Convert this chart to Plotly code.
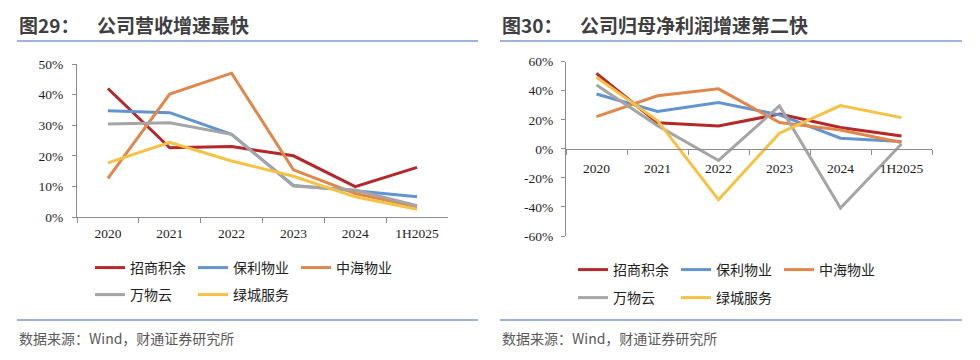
import plotly.graph_objects as go

# page body has an 8px margin, so the figure is 964x344 inside a 980x360 window
PAD = 8
W, H = 980 - 2 * PAD, 360 - 2 * PAD

categories = ["2020", "2021", "2022", "2023", "2024", "1H2025"]
series_names = ["招商积余", "保利物业", "中海物业", "万物云", "绿城服务"]
colors = ["#B5282A", "#6294D0", "#E0874C", "#A5A5A5", "#F5C244"]

# 营收增速 (%)
rev_zsjy = [42.0, 22.6, 23.0, 20.0, 9.9, 16.2]
rev_blwy = [34.7, 34.1, 27.0, 10.3, 8.6, 6.6]
rev_zhwy = [12.6, 40.2, 47.0, 15.4, 7.7, 3.3]
rev_wwy = [30.4, 30.8, 27.0, 10.1, 8.8, 3.7]
rev_lcfw = [17.7, 24.4, 18.3, 13.3, 6.6, 2.5]

# 归母净利润增速 (%)
np_zsjy = [52.0, 18.0, 15.8, 23.9, 14.7, 8.9]
np_blwy = [37.8, 25.7, 31.9, 23.4, 7.3, 5.0]
np_zhwy = [22.2, 36.5, 41.3, 18.1, 13.0, 4.4]
np_wwy = [44.0, 16.0, -8.0, 29.6, -40.8, 3.4]
np_lcfw = [49.3, 19.5, -35.0, 10.8, 29.8, 21.5]

left_yticks = [0, 10, 20, 30, 40, 50]
left_yticktext = ["0%", "10%", "20%", "30%", "40%", "50%"]
right_yticks = [60, 40, 20, 0, -20, -40, -60]
right_yticktext = ["60%", "40%", "20%", "0%", "-20%", "-40%", "-60%"]

left_title_no = "图29："
left_title = "公司营收增速最快"
right_title_no = "图30："
right_title = "公司归母净利润增速第二快"
source_text = "数据来源：Wind，财通证券研究所"

rev_series = [rev_zsjy, rev_blwy, rev_zhwy, rev_wwy, rev_lcfw]
np_series = [np_zsjy, np_blwy, np_zhwy, np_wwy, np_lcfw]


def px(x):
    return (x - PAD) / W


def py(y):
    return 1 - (y - PAD) / H


fig = go.Figure()

legend_rows_left = ["legend", "legend", "legend", "legend2", "legend2"]
legend_rows_right = ["legend3", "legend3", "legend3", "legend4", "legend4"]

for i, name in enumerate(series_names):
    fig.add_trace(go.Scatter(
        x=categories, y=rev_series[i], name=name, mode="lines",
        line=dict(color=colors[i], width=3),
        xaxis="x", yaxis="y", legend=legend_rows_left[i],
    ))
for i, name in enumerate(series_names):
    fig.add_trace(go.Scatter(
        x=categories, y=np_series[i], name=name, mode="lines",
        line=dict(color=colors[i], width=3),
        xaxis="x2", yaxis="y2", legend=legend_rows_right[i],
    ))

tickfont = dict(family="Liberation Serif", size=13.5, color="#1E1E1E")
axis_color = "#8C8C8C"
cat_range = [-0.5, len(categories) - 0.5]

fig.update_layout(
    width=W, height=H,
    margin=dict(l=0, r=0, t=0, b=0, autoexpand=False),
    paper_bgcolor="white", plot_bgcolor="white",
    showlegend=True,
    xaxis=dict(
        domain=[px(77), px(448)], anchor="y", type="category", automargin=False,
        range=cat_range, tickson="boundaries", ticks="outside", ticklen=5,
        tickcolor=axis_color, ticklabelstandoff=4,
        showline=True, linecolor=axis_color, linewidth=1.3,
        showgrid=False, zeroline=False, tickfont=tickfont,
    ),
    yaxis=dict(
        domain=[py(217), py(64)], anchor="x", range=[0, 50], automargin=False,
        tickvals=left_yticks, ticktext=left_yticktext,
        ticks="outside", ticklen=4, tickcolor=axis_color, ticklabelstandoff=6,
        showline=True, linecolor=axis_color, linewidth=1.3,
        showgrid=False, zeroline=False, tickfont=tickfont,
    ),
    xaxis2=dict(
        domain=[px(566), px(932)], anchor="free", position=py(149), type="category",
        automargin=False, range=cat_range,
        tickson="boundaries", ticks="outside", ticklen=5, tickcolor=axis_color,
        ticklabelstandoff=7,
        showline=True, linecolor=axis_color, linewidth=1.3,
        showgrid=False, zeroline=False, tickfont=tickfont,
    ),
    yaxis2=dict(
        domain=[py(236), py(61.7)], anchor="x2", range=[-60, 60], automargin=False,
        tickvals=right_yticks, ticktext=right_yticktext,
        ticks="outside", ticklen=4, tickcolor=axis_color, ticklabelstandoff=5,
        showline=True, linecolor=axis_color, linewidth=1.3,
        showgrid=False, zeroline=False, tickfont=tickfont,
    ),
)

legend_font = dict(family="Noto Sans CJK SC", size=14, color="#222222")
common_leg = dict(orientation="h", font=legend_font, xanchor="left", yanchor="middle",
                  bgcolor="rgba(0,0,0,0)", entrywidth=58, entrywidthmode="pixels",
                  itemwidth=30, tracegroupgap=0)
fig.update_layout(
    legend=dict(x=px(90), y=py(268), **common_leg),
    legend2=dict(x=px(90), y=py(295), **common_leg),
    legend3=dict(x=px(573), y=py(270), **common_leg),
    legend4=dict(x=px(573), y=py(298), **common_leg),
)

annotations = [
    dict(text="<b>" + left_title_no + "</b>", x=px(17), y=py(25)),
    dict(text="<b>" + left_title + "</b>", x=px(95), y=py(25)),
    dict(text="<b>" + right_title_no + "</b>", x=px(500), y=py(25)),
    dict(text="<b>" + right_title + "</b>", x=px(578), y=py(25)),
]
for a in annotations:
    fig.add_annotation(xref="paper", yref="paper", showarrow=False,
                       xanchor="left", yanchor="middle",
                       font=dict(family="Noto Sans CJK SC", size=19, color="#3F3F3F"),
                       **a)
for x0 in (17, 500):
    fig.add_annotation(xref="paper", yref="paper", showarrow=False,
                       xanchor="left", yanchor="middle",
                       text=source_text, x=px(x0), y=py(338),
                       font=dict(family="Noto Sans CJK SC", size=14, color="#595959"))

line_color = "#7F98CC"
for (x0, x1) in ((17, 478), (500, 962)):
    for yy in (41, 320):
        fig.add_shape(type="line", xref="paper", yref="paper",
                      x0=px(x0), x1=px(x1), y0=py(yy), y1=py(yy),
                      line=dict(color=line_color, width=1.5))

fig.write_html("out.html")
